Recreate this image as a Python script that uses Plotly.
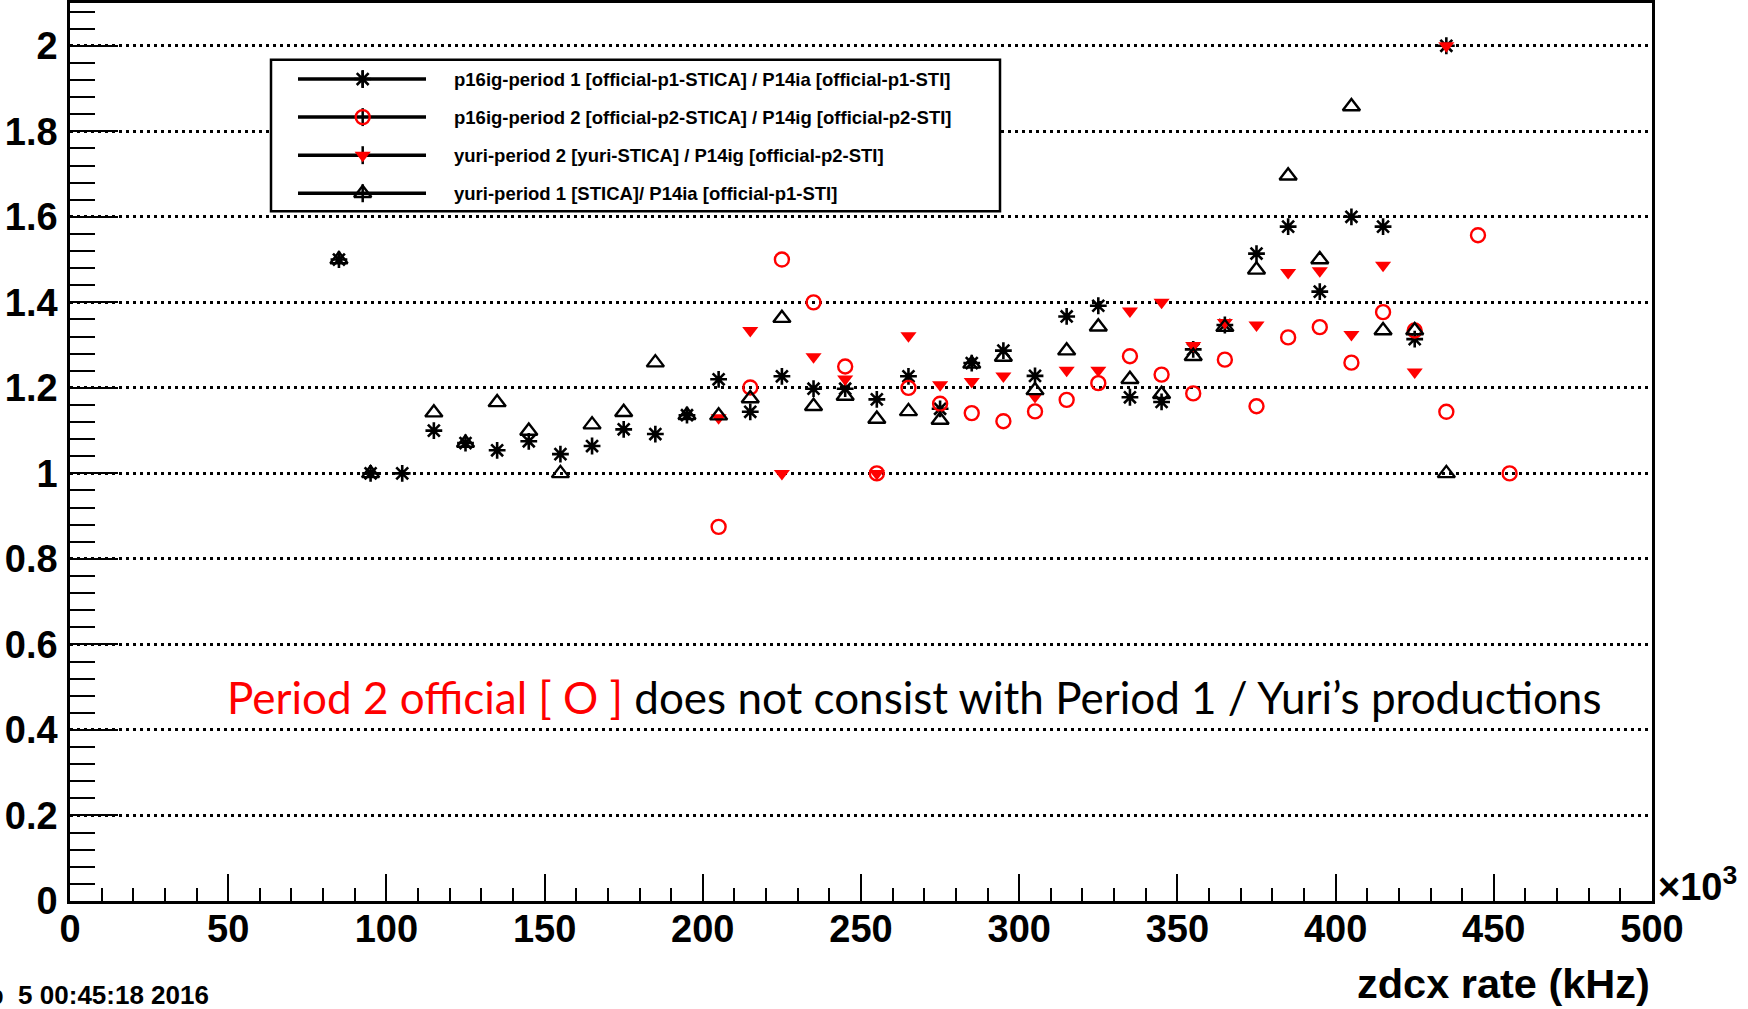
import plotly.graph_objects as go

# ---------------- data ----------------
rate_khz = [85, 95, 105, 115, 125, 135, 145, 155, 165, 175, 185, 195, 205, 215, 225,
            235, 245, 255, 265, 275, 285, 295, 305, 315, 325, 335, 345, 355, 365, 375,
            385, 395, 405, 415, 425, 435, 445, 455]

p1_official = [1.50, 1.00, 1.00, 1.10, 1.071, 1.054, 1.075, 1.045, 1.064, 1.103, 1.092, 1.136,
               1.22, 1.144, 1.227, 1.198, 1.198, 1.173, 1.227, 1.151, 1.258, 1.287, 1.228,
               1.367, 1.392, 1.178, 1.167, 1.29, 1.347, 1.514, 1.577, 1.425, 1.60, 1.577,
               1.314, 2.00, None, None]

p2_official = [None, None, None, None, None, None, None, None, None, None, None, None,
               0.875, 1.201, 1.50, 1.40, 1.25, 1.00, 1.20, 1.163, 1.141, 1.122, 1.145,
               1.172, 1.211, 1.274, 1.231, 1.187, 1.266, 1.157, 1.318, 1.342, 1.259, 1.377,
               1.334, 1.144, 1.557, 1.00]

p2_yuri = [None, None, None, None, None, None, None, None, None, None, None, None,
           1.13, 1.334, 1.00, 1.273, 1.221, 1.00, 1.322, 1.207, 1.215, 1.228, 1.18,
           1.241, 1.241, 1.38, 1.40, 1.299, 1.353, 1.347, 1.47, 1.474, 1.325, 1.487,
           1.237, 2.00, None, None]

p1_yuri = [1.50, 1.00, None, 1.142, 1.071, 1.166, 1.099, 1.00, 1.114, 1.143, 1.259, 1.136,
           1.135, 1.175, 1.363, 1.157, 1.181, 1.127, 1.145, 1.125, 1.256, 1.272, 1.194,
           1.287, 1.343, 1.22, 1.185, 1.274, 1.342, 1.476, 1.696, 1.50, 1.858, 1.334,
           1.334, 1.00, None, None]

series_names = [
    "p16ig-period 1 [official-p1-STICA] / P14ia [official-p1-STI]",
    "p16ig-period 2 [official-p2-STICA] / P14ig [official-p2-STI]",
    "yuri-period 2 [yuri-STICA] / P14ig [official-p2-STI]",
    "yuri-period 1 [STICA]/ P14ia [official-p1-STI]",
]
series_values = [p1_official, p2_official, p2_yuri, p1_yuri]

y_tick_vals = [0, 0.2, 0.4, 0.6, 0.8, 1, 1.2, 1.4, 1.6, 1.8, 2]
y_tick_text = ["0", "0.2", "0.4", "0.6", "0.8", "1", "1.2", "1.4", "1.6", "1.8", "2"]
x_tick_vals = [0, 50, 100, 150, 200, 250, 300, 350, 400, 450, 500]
x_tick_text = ["0", "50", "100", "150", "200", "250", "300", "350", "400", "450", "500"]

x_title = "zdcx rate (kHz)"
note_red = "Period 2 official [ O ]"
note_black = " does not consist with Period 1 / Yuri\u2019s productions"
date_text = "Fri Feb\u00a0\u00a05 00:45:18 2016"

# ---------------- styles ----------------
W, H = 1748, 1009
L, R, T, B = 70, 96, 0, 108
PW, PH = W - L - R, H - T - B
X_RANGE = [0, 500]
Y_RANGE = [0, 2.1]

styles = [
    dict(symbol="asterisk-open", size=14, color="black", line=dict(color="black", width=2.6)),
    dict(symbol="circle-open", size=14, color="red", line=dict(color="red", width=2.4)),
    dict(symbol="triangle-down", size=14, color="red", line=dict(color="red", width=0)),
    dict(symbol="triangle-up-open", size=15, color="black", line=dict(color="black", width=2.4)),
]

FONT = "Liberation Sans, Arial, Helvetica, sans-serif"


def px(xp):
    return (xp - L) / PW


def py(yp):
    return 1 - (yp - T) / PH


def dx(xp):  # pixel -> data x (for layout decorations)
    return X_RANGE[0] + px(xp) * (X_RANGE[1] - X_RANGE[0])


def dy(yp):
    return Y_RANGE[0] + py(yp) * (Y_RANGE[1] - Y_RANGE[0])


fig = go.Figure()

for name, vals, st in zip(series_names, series_values, styles):
    fig.add_trace(go.Scatter(x=rate_khz, y=vals, mode="markers", name=name,
                             marker=st, showlegend=False, cliponaxis=False))

# ---------------- hand-drawn ROOT style legend ----------------
leg_box = dict(x0=271, x1=1000, y0=57, y1=209)
row0, row_step = 76.3, 38.2
line_x0, line_x1, mark_x, text_x = 298, 426, 362.7, 452

shapes = [dict(type="rect", xref="x", yref="y", x0=dx(leg_box["x0"]), x1=dx(leg_box["x1"]),
               y0=dy(leg_box["y0"]), y1=dy(leg_box["y1"]), fillcolor="white",
               line=dict(color="black", width=2.5), layer="between")]
annotations = []
for i, (name, st) in enumerate(zip(series_names, styles)):
    ry = row0 + i * row_step
    shapes.append(dict(type="line", xref="x", yref="y", x0=dx(line_x0), x1=dx(line_x1),
                       y0=dy(ry), y1=dy(ry),
                       line=dict(color="black", width=3.5), layer="between"))
    shapes.append(dict(type="line", xref="x", yref="y", x0=dx(mark_x), x1=dx(mark_x),
                       y0=dy(ry - 9), y1=dy(ry + 9),
                       line=dict(color="black", width=2.5), layer="between"))
    fig.add_trace(go.Scatter(x=[dx(mark_x)], y=[dy(ry)], mode="markers", marker=st,
                             showlegend=False, hoverinfo="skip", cliponaxis=False))
    annotations.append(dict(xref="paper", yref="paper", x=px(text_x), y=py(ry), xanchor="left",
                            yanchor="middle", text=name, showarrow=False,
                            font=dict(family=FONT, size=18.5, color="black", weight="bold")))

# axis title, exponent, date, note
annotations.append(dict(xref="paper", yref="paper", x=px(1652), y=py(984), xanchor="right",
                        yanchor="middle", text=x_title, showarrow=False,
                        font=dict(family=FONT, size=41.5, color="black", weight="bold")))
annotations.append(dict(xref="paper", yref="paper", x=px(1656), y=py(884), xanchor="left",
                        yanchor="middle", text="\u00d710<sup>3</sup>", showarrow=False,
                        font=dict(family=FONT, size=38, color="black", weight="bold")))
annotations.append(dict(xref="paper", yref="paper", x=px(211), y=py(995), xanchor="right",
                        yanchor="middle", text=date_text, showarrow=False,
                        font=dict(family=FONT, size=26, color="black", weight="bold")))
annotations.append(dict(xref="paper", yref="paper", x=px(225), y=py(696), xanchor="left",
                        yanchor="middle",
                        text="<span style='color:red'>" + note_red + "</span>" + note_black,
                        showarrow=False,
                        font=dict(family="Lato, Open Sans, sans-serif", size=44, color="black")))

fig.update_layout(
    width=W, height=H,
    margin=dict(l=L, r=R, t=T, b=B, pad=0),
    paper_bgcolor="white", plot_bgcolor="white",
    showlegend=False,
    shapes=shapes, annotations=annotations,
    xaxis=dict(range=X_RANGE, tickmode="array", tickvals=x_tick_vals, ticktext=x_tick_text,
               ticks="inside", ticklen=27, tickwidth=2, tickcolor="black",
               minor=dict(ticks="inside", ticklen=13, tickwidth=2, tickcolor="black",
                          dtick=10, tick0=0, showgrid=False),
               showgrid=False, zeroline=False, showline=True, linecolor="black", linewidth=2.5,
               mirror=True, tickfont=dict(family=FONT, size=38, color="black", weight="bold"),
               ticklabelstandoff=-7, fixedrange=True),
    yaxis=dict(range=Y_RANGE, tickmode="array", tickvals=y_tick_vals, ticktext=y_tick_text,
               ticks="inside", ticklen=48, tickwidth=2, tickcolor="black",
               minor=dict(ticks="inside", ticklen=25, tickwidth=2, tickcolor="black",
                          dtick=0.04, tick0=0, showgrid=False),
               showgrid=True, gridcolor="black", gridwidth=3, griddash="3px,4px",
               zeroline=False, showline=True, linecolor="black", linewidth=2.5, mirror=True,
               tickfont=dict(family=FONT, size=38, color="black", weight="bold"),
               ticklabelstandoff=2, fixedrange=True),
)

fig.write_html("out.html")
